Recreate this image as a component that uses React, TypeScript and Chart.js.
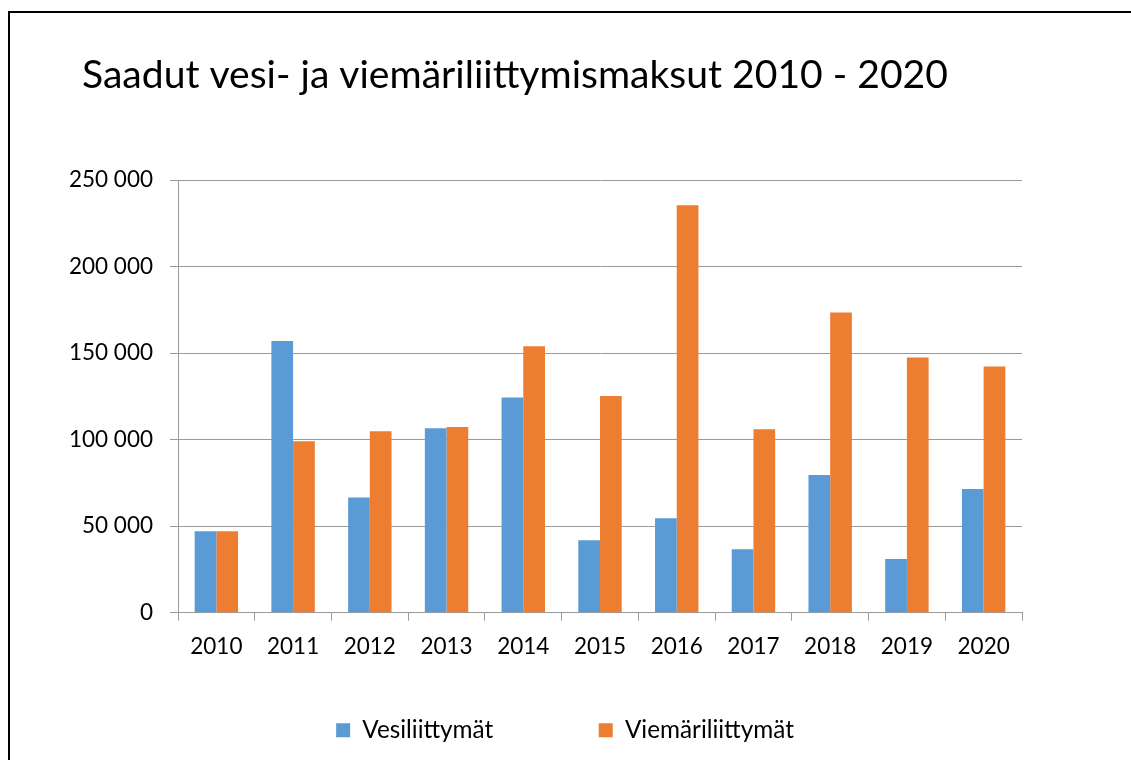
import React, { useEffect, useRef } from "react";
import { Chart, registerables } from "chart.js";

Chart.register(...registerables);

const TITLE = "Saadut vesi- ja viemäriliittymismaksut 2010 - 2020";
const YEARS = ["2010", "2011", "2012", "2013", "2014", "2015", "2016", "2017", "2018", "2019", "2020"];
const SERIES_NAMES = ["Vesiliittymät", "Viemäriliittymät"];
const VESI = [47000, 157000, 66600, 106600, 124300, 41800, 54500, 36600, 79600, 31000, 71400];
const VIEMARI = [47000, 99000, 104800, 107300, 153900, 125200, 235400, 106000, 173500, 147500, 142300];
const Y_MIN = 0;
const Y_MAX = 250000;
const Y_STEP = 50000;

const FONT = "Lato, 'Open Sans', sans-serif";
const GRID = "#9a9a9a";

const formatThousands = (v: number) =>
  String(Math.round(v)).replace(/\B(?=(\d{3})+(?!\d))/g, " ");

const titlePlugin = {
  id: "leftTitle",
  afterDraw(chart: any) {
    const { ctx, chartArea } = chart;
    ctx.save();
    ctx.font = `39.1px ${FONT}`;
    ctx.fillStyle = "#000";
    ctx.textAlign = "left";
    ctx.textBaseline = "alphabetic";
    ctx.fillText(TITLE, chartArea.left - 96, chartArea.top - 92);
    ctx.restore();
  },
};

export default function App() {
  const ref = useRef<HTMLCanvasElement | null>(null);

  useEffect(() => {
    if (!ref.current) return;
    const chart = new Chart(ref.current, {
      type: "bar",
      data: {
        labels: YEARS,
        datasets: [
          {
            label: SERIES_NAMES[0],
            data: VESI,
            backgroundColor: "#5B9BD5",
            borderWidth: 0,
            yAxisID: "y",
          },
          {
            label: SERIES_NAMES[1],
            data: VIEMARI,
            backgroundColor: "#ED7D31",
            borderWidth: 0,
            yAxisID: "y",
          },
        ],
      },
      options: {
        responsive: false,
        animation: false,
        layout: { padding: { top: 167, right: 11, bottom: 7.5, left: 0 } },
        datasets: { bar: { categoryPercentage: 0.566, barPercentage: 1 } },
        plugins: {
          title: { display: false },
          tooltip: { enabled: false },
          legend: {
            display: true,
            position: "bottom",
            labels: {
              boxWidth: 14,
              boxHeight: 14,
              padding: 105.5,
              color: "#000",
              font: { family: FONT, size: 24.3 },
            },
          },
        },
        scales: {
          x: {
            afterFit: (s: any) => {
              s.height = 0;
            },
            grid: {
              display: true,
              drawOnChartArea: false,
              drawTicks: true,
              tickLength: 8,
              color: GRID,
              offset: true,
            },
            border: { display: true, color: GRID, width: 1 },
            ticks: {
              color: "#000",
              mirror: true,
              padding: -47.2,
              maxRotation: 0,
              autoSkip: false,
              font: { family: FONT, size: 22.5 },
            },
          },
          y: {
            min: Y_MIN,
            max: Y_MAX,
            afterFit: (s: any) => {
              s.width = 168;
            },
            grid: {
              display: true,
              drawTicks: true,
              tickLength: 8,
              color: GRID,
              lineWidth: 1,
            },
            border: { display: true, color: GRID, width: 1 },
            ticks: {
              stepSize: Y_STEP,
              color: "#000",
              padding: 17,
              font: { family: FONT, size: 22.5 },
              callback: (v: any) => formatThousands(Number(v)),
            },
          },
          spacer: {
            type: "linear",
            position: "right",
            display: true,
            afterFit: (s: any) => {
              s.width = 98;
            },
            grid: { display: false, drawTicks: false },
            border: { display: false },
            ticks: { display: false },
          },
        },
      },
      plugins: [titlePlugin],
    });
    return () => chart.destroy();
  }, []);

  return (
    <div
      style={{
        position: "absolute",
        left: 8,
        top: 11,
        width: 1123,
        height: 749,
        borderLeft: "2px solid #000",
        borderTop: "2px solid #000",
        overflow: "hidden",
        background: "#fff",
      }}
    >
      <canvas ref={ref} width={1121} height={747} style={{ display: "block" }} />
    </div>
  );
}
